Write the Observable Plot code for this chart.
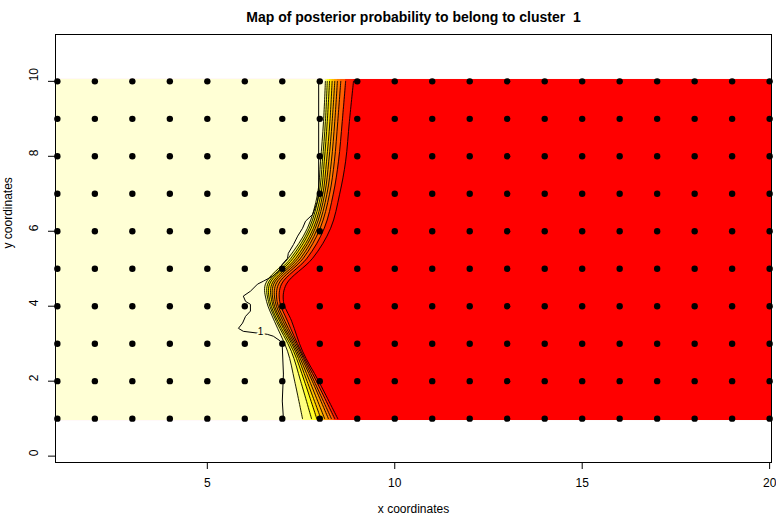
<!DOCTYPE html>
<html><head><meta charset="utf-8">
<script src="https://cdn.jsdelivr.net/npm/d3@7"></script>
<script src="https://cdn.jsdelivr.net/npm/@observablehq/plot@0.6"></script>
<style>
body{margin:0;background:#fff}
svg{font-family:"Liberation Sans",Arial,Helvetica,sans-serif}
</style>
</head><body><div id="chart"></div>
<script>
// grid of sampled sites
const xGrid = [1,2,3,4,5,6,7,8,9,10,11,12,13,14,15,16,17,18,19,20];
const yGrid = [1,2,3,4,5,6,7,8,9,10];
const cellHalf = 0.05;           // half size of an image cell
const xTicks = [5,10,15,20];
const yTicks = [0,2,4,6,8,10];
const title = "Map of posterior probability to belong to cluster\u00a0 1";

// contour lines (x position of each probability level at given y)
const contourY = [1, 2, 2.8, 3.6, 4.13, 4.59, 5.28, 6.08, 6.99, 7.87, 8.93, 10];
const c09 = [7.54, 7.33, 7.14, 6.79, 6.58, 6.55, 7.16, 7.67, 7.94, 8.02, 8.10, 8.15];
const c08 = [7.78, 7.49, 7.24, 6.84, 6.63, 6.61, 7.23, 7.72, 7.98, 8.07, 8.15, 8.20];
const c07 = [7.92, 7.59, 7.30, 6.88, 6.67, 6.66, 7.29, 7.77, 8.03, 8.12, 8.20, 8.26];
const c06 = [8.03, 7.66, 7.35, 6.93, 6.72, 6.72, 7.36, 7.83, 8.08, 8.18, 8.27, 8.33];
const c05 = [8.13, 7.73, 7.39, 6.97, 6.76, 6.77, 7.42, 7.88, 8.13, 8.24, 8.33, 8.40];
const c04 = [8.23, 7.80, 7.43, 7.02, 6.81, 6.83, 7.49, 7.94, 8.19, 8.31, 8.40, 8.47];
const c03 = [8.31, 7.85, 7.47, 7.07, 6.86, 6.90, 7.56, 8.01, 8.26, 8.39, 8.48, 8.56];
const c02 = [8.40, 7.91, 7.50, 7.14, 6.93, 6.98, 7.66, 8.12, 8.36, 8.50, 8.60, 8.69];
const c01 = [8.48, 7.97, 7.54, 7.25, 7.03, 7.11, 7.81, 8.29, 8.53, 8.69, 8.79, 8.90];
const levels = [0.9, 0.8, 0.7, 0.6, 0.5, 0.4, 0.3, 0.2, 0.1];
const bandColors = ["#FFFFD5","#FFFF80","#FFFF2A","#FFDF00","#FFBF00","#FF9F00","#FF8000","#FF6000","#FF2000"];
const outsideColor = "#FF0000";

// the wiggly contour labelled "1"
const oneX = [7.97, 7.97, 7.94, 7.81, 7.62, 7.54, 7.41, 7.30, 7.16, 7.14, 7.00, 6.90, 6.74, 6.50, 6.34, 6.15, 5.96, 6.02, 6.15, 6.15, 6.02, 5.94, 5.83, 5.96, 6.60, 6.76, 6.95, 7.00, 7.03, 7.00, 7.03];
const oneY = [10, 7.07, 6.80, 6.45, 6.27, 6.08, 5.87, 5.65, 5.41, 5.28, 5.12, 4.93, 4.80, 4.67, 4.59, 4.40, 4.27, 4.13, 4.05, 3.87, 3.73, 3.55, 3.41, 3.33, 3.25, 3.20, 3.07, 2.93, 2.19, 1.47, 1];
const oneLabel = {x: 6.42, y: 3.31, text: "1"};

// ---- build tables ----
const contours = [c09, c08, c07, c06, c05, c04, c03, c02, c01];
const xMin = d3.min(xGrid) - cellHalf, xMax = d3.max(xGrid) + cellHalf;
const yMin = d3.min(yGrid) - cellHalf, yMax = d3.max(yGrid) + cellHalf;
const fillRows = contourY.map((y, i) => ({
  y: i === 0 ? yMin : i === contourY.length - 1 ? yMax : y,
  xs: contours.map(c => c[i])
}));
const lineRows = [];
contours.forEach((c, k) => c.forEach((x, i) => lineRows.push({level: levels[k], x, y: contourY[i]})));
const oneRows = oneX.map((x, i) => ({x, y: oneY[i]}));
const points = yGrid.flatMap(y => xGrid.map(x => ({x, y})));

// layered fills: red background, then from the lowest level band to the highest
const fills = [];
for (let k = contours.length - 1; k >= 0; k--) {
  fills.push(Plot.areaX(fillRows, {
    y: "y", x1: () => xMin, x2: d => d.xs[k], fill: bandColors[k], curve: "catmull-rom"
  }));
}

const chart = Plot.plot({
  width: 776, height: 518,
  marginLeft: 55, marginRight: 5, marginTop: 34, marginBottom: 56,
  x: {domain: [xMin, xMax]},
  y: {domain: [-0.17, 11.25]},
  style: {fontFamily: '"Liberation Sans", Arial, sans-serif', background: "#fff"},
  marks: [
    Plot.rect([{x1: xMin, x2: xMax, y1: yMin, y2: yMax}], {x1: "x1", x2: "x2", y1: "y1", y2: "y2", fill: outsideColor}),
    ...fills,
    Plot.line(lineRows, {x: "x", y: "y", z: "level", stroke: "#000", strokeWidth: 0.9, curve: "catmull-rom"}),
    Plot.line(oneRows, {x: "x", y: "y", stroke: "#000", strokeWidth: 1}),
    Plot.text([oneLabel], {x: "x", y: "y", text: "text", fontSize: 10, fill: "#000", stroke: bandColors[0], strokeWidth: 4}),
    Plot.dot(points, {x: "x", y: "y", r: 3.2, fill: "#000", stroke: null}),
    Plot.frame({stroke: "#000", strokeWidth: 1}),
    Plot.axisX({ticks: xTicks, tickSize: 7, tickPadding: 9, fontSize: 12, label: null, stroke: "#000"}),
    Plot.axisY({ticks: yTicks, tickSize: 7, tickFormat: () => "", label: null, stroke: "#000"}),
    Plot.text(yTicks, {y: d => d, text: d => String(d), frameAnchor: "left", dx: -21, rotate: -90, fontSize: 12, fill: "#000"}),
    Plot.text([title], {text: d => d, frameAnchor: "top", dy: -22, fontSize: 14, fontWeight: "bold", fill: "#000"}),
    Plot.text(["x coordinates"], {text: d => d, frameAnchor: "bottom", dy: 50, fontSize: 12, fill: "#000"}),
    Plot.text(["y coordinates"], {text: d => d, frameAnchor: "left", dx: -47, rotate: -90, fontSize: 12, fill: "#000"})
  ]
});
document.getElementById("chart").appendChild(chart);
</script>
</body></html>
